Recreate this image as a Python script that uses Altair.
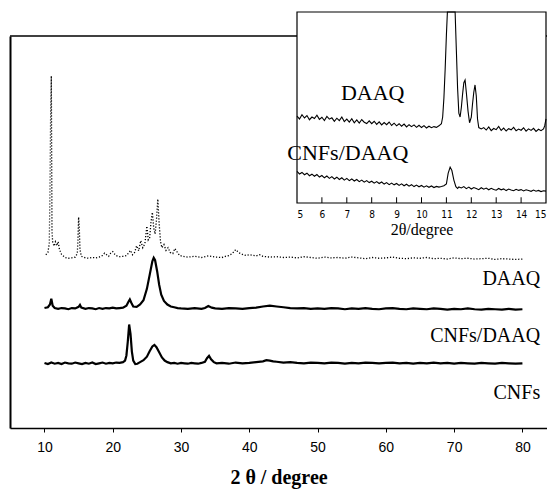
import altair as alt
import pandas as pd

# ---------------- main panel data (2theta, intensity in arbitrary units) -------------
DAAQ_MAIN = [
    (10.2, 44.2), (10.5, 44.8), (10.7, 47.0), (10.8, 60.0), (10.9, 80.0), (11.0, 89.8),
    (11.05, 70.0), (11.1, 50.0), (11.2, 47.5), (11.4, 46.4), (11.6, 47.5), (11.8, 46.5),
    (12.0, 47.5), (12.2, 45.5), (12.5, 44.3), (13.0, 43.5), (13.5, 43.3), (14.0, 43.4),
    (14.5, 43.6), (14.8, 44.5), (14.9, 48.0), (15.0, 53.8), (15.1, 51.0), (15.2, 45.5),
    (15.4, 43.8), (16.0, 43.4), (16.5, 43.3), (17.0, 43.5), (17.5, 43.4), (18.0, 43.6),
    (18.5, 44.0), (18.8, 44.6), (19.1, 44.2), (19.4, 43.8), (19.7, 44.6), (20.0, 45.0),
    (20.3, 44.3), (20.6, 43.9), (21.0, 43.7), (21.5, 43.8), (22.0, 44.0), (22.3, 44.6),
    (22.6, 45.3), (22.9, 44.2), (23.2, 44.8), (23.5, 46.5), (23.8, 45.2), (24.1, 47.8),
    (24.4, 46.0), (24.7, 47.0), (25.0, 51.5), (25.2, 48.0), (25.4, 48.5), (25.6, 52.5),
    (25.8, 55.0), (26.0, 51.0), (26.2, 49.5), (26.4, 53.0), (26.6, 58.4), (26.8, 52.0),
    (27.0, 47.5), (27.2, 46.0), (27.5, 46.8), (27.8, 45.3), (28.1, 46.0), (28.4, 44.8),
    (28.8, 44.5), (29.1, 45.8), (29.4, 45.0), (29.8, 44.0), (30.5, 43.7), (31.0, 43.6),
    (32.0, 43.8), (33.0, 43.5), (34.0, 43.9), (35.0, 43.6), (36.0, 43.5), (36.5, 43.8),
    (37.0, 44.0), (37.5, 44.5), (38.0, 45.5), (38.3, 45.0), (38.6, 44.6), (39.0, 44.3),
    (39.5, 44.0), (40.0, 44.2), (41.0, 43.9), (41.5, 44.2), (42.0, 43.8), (43.0, 43.6),
    (44.0, 43.7), (45.0, 43.5), (46.0, 43.6), (47.0, 43.4), (48.0, 43.7), (49.0, 43.5),
    (50.0, 43.3), (51.0, 43.6), (52.0, 43.4), (53.0, 43.5), (54.0, 43.3), (55.0, 43.6),
    (56.0, 43.4), (57.0, 43.2), (58.0, 43.5), (59.0, 43.3), (60.0, 43.4), (61.0, 43.6),
    (62.0, 43.3), (63.0, 43.2), (64.0, 43.4), (65.0, 43.3), (66.0, 43.5), (67.0, 43.2),
    (68.0, 43.3), (69.0, 43.1), (70.0, 43.4), (71.0, 43.2), (72.0, 43.3), (73.0, 43.1),
    (74.0, 43.2), (75.0, 43.3), (76.0, 43.0), (77.0, 43.2), (78.0, 43.1), (79.0, 43.0),
    (80.0, 43.1),
]

CNFS_DAAQ_MAIN = [
    (10.0, 30.6), (10.5, 30.8), (10.8, 31.5), (11.0, 33.0), (11.2, 31.2), (11.5, 30.6),
    (12.0, 30.4), (12.5, 30.6), (13.0, 30.5), (13.5, 30.3), (14.0, 30.6), (14.5, 30.5),
    (15.0, 30.9), (15.2, 31.4), (15.4, 30.7), (16.0, 30.4), (16.5, 30.6), (17.0, 30.5),
    (17.5, 30.3), (18.0, 30.6), (18.5, 30.4), (19.0, 30.6), (19.5, 30.5), (20.0, 30.7),
    (20.5, 30.5), (21.0, 30.6), (21.5, 30.7), (22.0, 31.2), (22.3, 32.2), (22.5, 32.8),
    (22.7, 32.0), (23.0, 31.0), (23.5, 30.9), (24.0, 31.5), (24.5, 32.6), (25.0, 35.5),
    (25.4, 39.0), (25.8, 42.5), (26.0, 43.4), (26.2, 42.8), (26.5, 40.0), (26.8, 36.5),
    (27.1, 34.0), (27.5, 32.4), (28.0, 31.5), (28.5, 31.0), (29.0, 30.8), (29.5, 30.6),
    (30.0, 30.5), (31.0, 30.4), (32.0, 30.6), (33.0, 30.4), (33.5, 30.6), (34.0, 31.1),
    (34.5, 30.7), (35.0, 30.5), (36.0, 30.4), (37.0, 30.6), (38.0, 30.5), (39.0, 30.4),
    (40.0, 30.6), (41.0, 30.7), (42.0, 31.0), (43.0, 31.2), (44.0, 31.0), (45.0, 30.8),
    (46.0, 30.6), (47.0, 30.5), (48.0, 30.6), (49.0, 30.4), (50.0, 30.5), (51.0, 30.4),
    (52.0, 30.6), (53.0, 30.5), (54.0, 30.3), (55.0, 30.5), (56.0, 30.4), (57.0, 30.6),
    (58.0, 30.4), (59.0, 30.3), (60.0, 30.5), (61.0, 30.6), (62.0, 30.4), (63.0, 30.3),
    (64.0, 30.5), (65.0, 30.4), (66.0, 30.3), (67.0, 30.5), (68.0, 30.4), (69.0, 30.2),
    (70.0, 30.4), (71.0, 30.3), (72.0, 30.5), (73.0, 30.3), (74.0, 30.2), (75.0, 30.4),
    (76.0, 30.3), (77.0, 30.2), (78.0, 30.4), (79.0, 30.2), (80.0, 30.3),
]

CNFS_MAIN = [
    (10.0, 16.6), (10.5, 16.3), (11.0, 16.7), (11.5, 16.4), (12.0, 16.6), (12.5, 16.3),
    (13.0, 16.7), (13.5, 16.5), (14.0, 16.4), (14.5, 16.7), (15.0, 16.5), (15.5, 16.3),
    (16.0, 16.6), (16.5, 16.4), (17.0, 16.7), (17.5, 16.3), (18.0, 16.5), (18.5, 16.7),
    (19.0, 16.4), (19.5, 16.6), (20.0, 16.5), (20.5, 16.7), (21.0, 16.6), (21.5, 16.8),
    (21.8, 17.2), (22.0, 18.5), (22.2, 22.0), (22.4, 26.4), (22.6, 24.0), (22.8, 19.5),
    (23.0, 17.2), (23.3, 16.3), (23.6, 16.4), (24.0, 16.8), (24.5, 17.3), (25.0, 18.2),
    (25.4, 19.6), (25.8, 20.8), (26.1, 21.2), (26.4, 20.6), (26.8, 19.3), (27.2, 18.0),
    (27.6, 17.2), (28.0, 16.8), (28.5, 16.5), (29.0, 16.6), (29.5, 16.4), (30.0, 16.6),
    (30.5, 16.5), (31.0, 16.4), (31.5, 16.6), (32.0, 16.5), (32.5, 16.4), (33.0, 16.6),
    (33.5, 16.9), (33.8, 17.8), (34.1, 18.4), (34.4, 17.5), (34.8, 16.8), (35.2, 16.5),
    (36.0, 16.6), (37.0, 16.4), (38.0, 16.7), (39.0, 16.5), (40.0, 16.6), (41.0, 16.8),
    (42.0, 17.0), (42.5, 17.3), (43.0, 17.2), (43.5, 17.0), (44.0, 16.9), (45.0, 16.7),
    (46.0, 16.8), (47.0, 16.6), (48.0, 16.5), (49.0, 16.7), (50.0, 16.6), (51.0, 16.5),
    (52.0, 16.7), (53.0, 16.6), (54.0, 16.4), (55.0, 16.6), (56.0, 16.5), (57.0, 16.7),
    (58.0, 16.6), (59.0, 16.5), (60.0, 16.6), (61.0, 16.7), (62.0, 16.5), (63.0, 16.6),
    (64.0, 16.4), (65.0, 16.6), (66.0, 16.5), (67.0, 16.7), (68.0, 16.5), (69.0, 16.6),
    (70.0, 16.4), (71.0, 16.6), (72.0, 16.5), (73.0, 16.4), (74.0, 16.6), (75.0, 16.5),
    (76.0, 16.4), (77.0, 16.6), (78.0, 16.5), (79.0, 16.4), (80.0, 16.5),
]

MAIN_TICKS = [10, 20, 30, 40, 50, 60, 70, 80]
MAIN_LABELS = ["DAAQ", "CNFs/DAAQ", "CNFs"]
MAIN_LABEL_X = [82.6, 82.6, 82.6]
MAIN_LABEL_Y = [38.1, 23.4, 8.9]

# ---------------- inset data (5-15 degrees) ----------------
INSET_DAAQ_X = [
    5.0, 5.1, 5.2, 5.3, 5.4, 5.5, 5.6, 5.7, 5.8, 5.9,
    6.0, 6.1, 6.2, 6.3, 6.4, 6.5, 6.6, 6.7, 6.8, 6.9,
    7.0, 7.1, 7.2, 7.3, 7.4, 7.5, 7.6, 7.7, 7.8, 7.9,
    8.0, 8.1, 8.2, 8.3, 8.4, 8.5, 8.6, 8.7, 8.8, 8.9,
    9.0, 9.1, 9.2, 9.3, 9.4, 9.5, 9.6, 9.7, 9.8, 9.9,
    10.0, 10.1, 10.2, 10.3, 10.4, 10.5, 10.6, 10.7, 10.8,
    10.85, 10.9, 10.95, 11.0, 11.04, 11.35, 11.4, 11.45, 11.5, 11.55,
    11.6, 11.65, 11.7, 11.75, 11.8, 11.87, 11.93, 12.0, 12.05, 12.1,
    12.15, 12.2, 12.25, 12.3, 12.4,
    12.5, 12.6, 12.7, 12.8, 12.9, 13.0, 13.1, 13.2, 13.3, 13.4,
    13.5, 13.6, 13.7, 13.8, 13.9, 14.0, 14.1, 14.2, 14.3, 14.4,
    14.5, 14.6, 14.7, 14.8, 14.9, 14.95, 15.0,
]
INSET_DAAQ_Y = [
    45.5, 44.0, 46.2, 44.5, 45.8, 43.6, 45.0, 44.2, 46.0, 43.8,
    44.9, 43.2, 45.3, 43.9, 44.6, 42.8, 44.4, 43.1, 45.0, 42.6,
    43.9, 42.4, 44.1, 42.0, 43.5, 41.8, 43.7, 42.3, 41.6, 43.0,
    41.5, 42.8, 41.2, 42.5, 40.9, 42.1, 41.0, 42.4, 40.6, 41.8,
    40.4, 41.5, 40.2, 41.3, 39.8, 41.0, 40.0, 40.9, 39.6, 40.7,
    39.5, 40.5, 39.3, 40.2, 39.4, 40.0, 39.6, 40.4, 41.5,
    45.0, 55.0, 70.0, 88.0, 100.0, 100.0, 80.0, 60.0, 47.0, 45.0,
    50.0, 57.0, 63.0, 64.4, 58.0, 48.0, 42.0, 45.0, 52.0, 58.0,
    61.8, 56.0, 44.0, 39.5, 38.8,
    39.5, 38.2, 39.8, 37.9, 39.0, 38.4, 40.1, 38.0, 39.2, 37.7,
    38.9, 38.3, 39.6, 37.8, 38.7, 38.1, 39.4, 37.6, 38.8, 38.0,
    39.1, 37.5, 38.6, 37.9, 38.8, 40.5, 44.0,
]

INSET_CD_X = [
    5.0, 5.1, 5.2, 5.3, 5.4, 5.5, 5.6, 5.7, 5.8, 5.9,
    6.0, 6.1, 6.2, 6.3, 6.4, 6.5, 6.6, 6.7, 6.8, 6.9,
    7.0, 7.1, 7.2, 7.3, 7.4, 7.5, 7.6, 7.7, 7.8, 7.9,
    8.0, 8.1, 8.2, 8.3, 8.4, 8.5, 8.6, 8.7, 8.8, 8.9,
    9.0, 9.1, 9.2, 9.3, 9.4, 9.5, 9.6, 9.7, 9.8, 9.9,
    10.0, 10.1, 10.2, 10.3, 10.4, 10.5, 10.6, 10.7, 10.8,
    10.9, 11.0, 11.07, 11.15, 11.22, 11.3, 11.38, 11.45, 11.5,
    11.6, 11.7, 11.8, 11.9, 12.0, 12.1, 12.2, 12.3, 12.4, 12.5,
    12.6, 12.7, 12.8, 12.9, 13.0, 13.1, 13.2, 13.3, 13.4, 13.5,
    13.6, 13.7, 13.8, 13.9, 14.0, 14.1, 14.2, 14.3, 14.4, 14.5,
    14.6, 14.7, 14.8, 14.9, 15.0,
]
INSET_CD_Y = [
    16.5, 15.2, 16.0, 14.8, 15.6, 14.3, 15.1, 14.0, 14.9, 13.6,
    14.4, 13.2, 14.1, 12.9, 13.8, 12.6, 13.5, 12.3, 13.2, 12.0,
    12.9, 11.7, 12.6, 11.5, 12.3, 11.2, 12.0, 10.9, 11.7, 10.7,
    11.4, 10.4, 11.2, 10.2, 11.0, 9.9, 10.7, 9.6, 10.4, 9.5,
    10.2, 9.2, 10.0, 9.0, 9.8, 8.8, 9.6, 8.6, 9.4, 8.5,
    9.2, 8.3, 9.0, 8.2, 8.9, 8.1, 8.7, 8.3, 8.6,
    9.0, 10.0, 15.5, 18.8, 17.0, 12.0, 8.5, 7.6, 8.4,
    7.9, 8.6, 7.5, 8.3, 7.3, 8.1, 7.6, 7.0, 8.0, 7.2,
    7.8, 6.9, 7.7, 7.1, 6.7, 7.6, 6.9, 7.4, 6.5, 7.3,
    6.8, 6.4, 7.2, 6.6, 7.0, 6.3, 6.9, 6.5, 6.1, 6.8,
    6.2, 6.6, 6.0, 6.4, 6.2,
]

INSET_TICKS = [5, 6, 7, 8, 9, 10, 11, 12, 13, 14, 15]
INSET_LABELS = ["DAAQ", "CNFs/DAAQ"]
INSET_LABEL_X = [8.04, 7.04]
INSET_LABEL_Y = [57.6, 26.2]

# ---------------- build frames ----------------
def pairs(p):
    return pd.DataFrame({"x": [a for a, _ in p], "y": [b for _, b in p]})

df_daaq = pairs(DAAQ_MAIN)
df_cd = pairs(CNFS_DAAQ_MAIN)
df_cnfs = pairs(CNFS_MAIN)
df_mlab = pd.DataFrame({"x": MAIN_LABEL_X, "y": MAIN_LABEL_Y, "t": MAIN_LABELS})

df_idaaq = pd.DataFrame({"x": INSET_DAAQ_X, "y": INSET_DAAQ_Y})
df_icd = pd.DataFrame({"x": INSET_CD_X, "y": INSET_CD_Y})
df_ilab = pd.DataFrame({"x": INSET_LABEL_X, "y": INSET_LABEL_Y, "t": INSET_LABELS})
df_box = pd.DataFrame({"x": [INSET_TICKS[0]], "x2": [INSET_TICKS[-1]], "y": [0], "y2": [100]})
df_iticks = pd.DataFrame({"x": INSET_TICKS[1:-1], "y": [0] * 9, "y2": [3] * 9})

W, H = 537, 392
SERIF = "Liberation Serif"
SANS = "Liberation Sans"

main_xscale = alt.Scale(domain=[4.95, 83.6], nice=False, zero=False)
main_yscale = alt.Scale(domain=[0, 100], nice=False, zero=False)
main_xaxis = alt.Axis(
    orient="bottom", values=MAIN_TICKS, title="2 θ / degree", grid=False,
    domainColor="black", domainWidth=1.3, tickColor="black", tickSize=4,
    labelFont=SANS, labelFontSize=14, labelColor="black", labelPadding=8,
    titleFont=SERIF, titleFontSize=20, titleFontWeight="bold", titleColor="black",
    titlePadding=13,
)
main_yaxis = alt.Axis(
    orient="left", title=None, labels=False, ticks=False, grid=False,
    domainColor="black", domainWidth=2,
)

def mx(field="x"):
    return alt.X(f"{field}:Q", scale=main_xscale, axis=main_xaxis)

def my(field="y"):
    return alt.Y(f"{field}:Q", scale=main_yscale, axis=main_yaxis)

top_border = alt.Chart(pd.DataFrame({"a": [0]})).mark_rule(
    color="black", strokeWidth=1.6
).encode(x=alt.value(0), x2=alt.value(W), y=alt.value(0))

l_daaq = alt.Chart(df_daaq).mark_line(
    color="black", strokeWidth=1.3, strokeDash=[1.2, 1.8]
).encode(x=mx(), y=my())
l_cd = alt.Chart(df_cd).mark_line(color="black", strokeWidth=2.2).encode(x=mx(), y=my())
l_cnfs = alt.Chart(df_cnfs).mark_line(color="black", strokeWidth=2.2).encode(x=mx(), y=my())
t_main = alt.Chart(df_mlab).mark_text(
    align="right", baseline="middle", font=SERIF, fontSize=20, color="black"
).encode(x=mx(), y=my(), text="t:N")

main = alt.layer(top_border, l_daaq, l_cd, l_cnfs, t_main)

# inset: scales mapped to the inset rectangle
ixscale = alt.Scale(domain=[5, 15], range=[287, 536], nice=False, zero=False)
iyscale = alt.Scale(domain=[0, 100], range=[167, -24], nice=False, zero=False)
ixaxis = alt.Axis(
    orient="bottom", offset=-(H - 167), values=INSET_TICKS, title="2θ/degree",
    grid=False, domain=False, ticks=False,
    labelFont="Liberation Sans Narrow, DejaVu Sans Condensed, Liberation Sans",
    labelFontSize=10, labelColor="black", labelPadding=6,
    titleFont=SERIF, titleFontSize=16, titleFontWeight="normal", titleColor="black",
    titlePadding=2,
)

def ix(field="x"):
    return alt.X(f"{field}:Q", scale=ixscale, axis=ixaxis)

def iy(field="y"):
    return alt.Y(f"{field}:Q", scale=iyscale, axis=None)

box = alt.Chart(df_box).mark_rect(
    fill="white", stroke="black", strokeWidth=1.2
).encode(x=ix(), x2="x2:Q", y=iy(), y2="y2:Q")
iticks = alt.Chart(df_iticks).mark_rule(color="black", strokeWidth=1).encode(
    x=ix(), y=iy(), y2="y2:Q"
)
il_daaq = alt.Chart(df_idaaq).mark_line(color="black", strokeWidth=1.1).encode(x=ix(), y=iy())
il_cd = alt.Chart(df_icd).mark_line(color="black", strokeWidth=1.1).encode(x=ix(), y=iy())
it = alt.Chart(df_ilab).mark_text(
    align="center", baseline="middle", font=SERIF, fontSize=22, color="black"
).encode(x=ix(), y=iy(), text="t:N")

inset = alt.layer(box, iticks, il_daaq, il_cd, it)

chart = alt.layer(main, inset).resolve_scale(
    x="independent", y="independent"
).properties(
    width=W, height=H,
    autosize=alt.AutoSizeParams(type="none"),
    padding={"left": 2, "top": 28, "right": 0, "bottom": 63},
    background="white",
).configure_view(stroke="transparent", strokeWidth=0)

chart.save("out.html", embed_options={"renderer": "svg", "actions": False})
